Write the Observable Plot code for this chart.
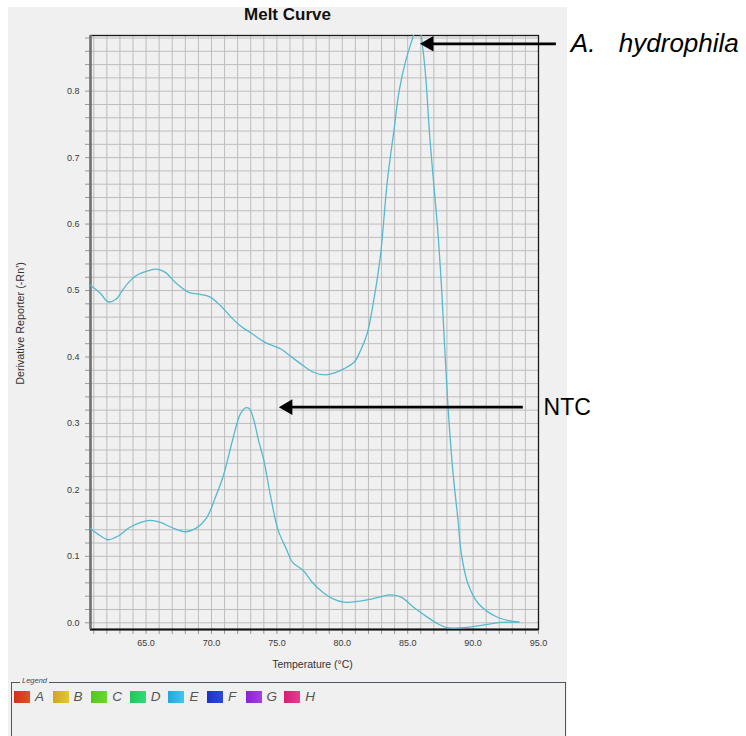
<!DOCTYPE html>
<html>
<head>
<meta charset="utf-8">
<script src="https://cdn.jsdelivr.net/npm/d3@7"></script>
<script src="https://cdn.jsdelivr.net/npm/@observablehq/plot@0.6"></script>
<style>
  html, body { margin: 0; padding: 0; background: #ffffff; overflow: hidden; }
  #wrap { position: relative; width: 746px; height: 736px; overflow: hidden; font-family: "Liberation Sans", Arial, sans-serif; }
  #panel { position: absolute; left: 8px; top: 7px; width: 559px; height: 729px; background: #f0f0f0; z-index: 0; }
  #title { position: relative; z-index: 1; box-sizing: border-box; height: 28px; padding-top: 5px; margin-left: 8px; width: 559px;
           text-align: center; font-weight: bold; font-size: 17px; line-height: 20px; color: #111; }
  #chart { position: relative; z-index: 1; height: 648px; }
  #chart svg { display: block; }
  #legend { position: relative; z-index: 1; height: 60px; }
  #legendBox { position: absolute; left: 11px; top: 6px; width: 553px; height: 80px; border: 1px solid #4e5660; }
  #legendTitle { position: absolute; left: 20px; top: 0px; padding: 0 2px; background: #f0f0f0; font-style: italic;
                 font-size: 7.5px; line-height: 10px; color: #3c4a66; }
  .sw { position: absolute; top: 15px; width: 16px; height: 12px; }
  .lk { position: absolute; top: 13px; font-style: italic; font-size: 13.5px; line-height: 16px; color: #555; }
</style>
</head>
<body>
<div id="wrap">
  <div id="panel"></div>
  <div id="title">Melt Curve</div>
  <div id="chart"></div>
  <div id="legend">
    <div id="legendBox"></div>
    <div id="legendTitle">Legend</div>
  </div>
</div>
<script>
// ---- data ----
const hydroTemp  = [60.75, 61.5, 62.1, 62.7, 63.4, 64.2, 65.2, 65.9, 66.5, 67.3, 68.3, 69.2, 69.9, 70.7, 71.5, 72.2, 73.1, 74.1, 75.3, 75.8, 76.8, 77.8, 78.7, 79.4, 80.1, 80.9, 81.4, 81.9, 82.4, 82.9, 83.45, 83.95, 84.35, 84.85, 85.25, 85.6, 85.9, 86.15, 86.4, 86.65, 86.9, 87.3, 87.6, 88.05, 88.45, 88.85, 89.1, 89.6, 90.4, 91.9, 93.5];
const hydroDeriv = [0.508, 0.496, 0.483, 0.487, 0.506, 0.522, 0.530, 0.532, 0.527, 0.511, 0.497, 0.494, 0.490, 0.477, 0.460, 0.447, 0.435, 0.422, 0.412, 0.405, 0.390, 0.377, 0.373, 0.376, 0.382, 0.392, 0.410, 0.435, 0.485, 0.550, 0.666, 0.741, 0.801, 0.846, 0.872, 0.890, 0.891, 0.865, 0.816, 0.741, 0.681, 0.590, 0.500, 0.335, 0.229, 0.154, 0.104, 0.059, 0.029, 0.008, 0.001];

const ntcTemp  = [60.75, 61.5, 62.1, 62.9, 63.7, 64.6, 65.3, 66.1, 67.0, 68.0, 68.8, 69.6, 70.3, 70.9, 71.6, 72.2, 72.6, 72.9, 73.25, 73.6, 74.0, 74.5, 75.1, 75.7, 76.2, 77.0, 77.7, 78.5, 79.3, 80.1, 81.0, 82.0, 82.9, 83.7, 84.5, 85.5, 86.5, 87.3, 88.0, 89.1, 90.1, 91.1, 92.1, 93.5];
const ntcDeriv = [0.142, 0.131, 0.125, 0.131, 0.143, 0.151, 0.154, 0.151, 0.143, 0.137, 0.142, 0.157, 0.189, 0.221, 0.274, 0.314, 0.3235, 0.322, 0.304, 0.274, 0.245, 0.192, 0.139, 0.112, 0.091, 0.079, 0.061, 0.046, 0.036, 0.031, 0.032, 0.035, 0.039, 0.042, 0.0385, 0.0225, 0.0085, -0.0015, -0.0072, -0.0075, -0.0055, -0.0025, 0.0005, 0.001];

const xDomain = [60.75, 95];
const yDomain = [-0.0101, 0.8838];
const xTickValues = [65, 70, 75, 80, 85, 90, 95];
const yTickValues = [0.0, 0.1, 0.2, 0.3, 0.4, 0.5, 0.6, 0.7, 0.8];
const xMinorTicks = d3.range(61, 95.5, 1);
const yMinorTicks = d3.range(0, 0.885, 0.02);

// annotations (data coordinates)
const arrowFrom = [96.33, 93.80];
const arrowTo   = [85.94, 75.15];
const arrowAt   = [0.8713, 0.3245];
const noteText  = ["A.", "hydrophila", "NTC"];
const noteTemp  = [97.47, 101.14, 95.39];
const noteValue = [0.8713, 0.8713, 0.3245];
const noteItalic = [true, true, false];

const legendKeys   = ["A", "B", "C", "D", "E", "F", "G", "H"];
const legendColors = [["#d2301c", "#e4521f"], ["#d3a41c", "#e0c832"], ["#52c81c", "#6ad82a"], ["#1ec85c", "#2fdc78"],
                      ["#22a6dc", "#3ec8f0"], ["#1c32c8", "#2c4ae0"], ["#8a22d8", "#a83ee8"], ["#d81c76", "#e83c90"]];

const curveColor = "#55b9cf";

// ---- build tables ----
const hydro = hydroTemp.map((t, i) => ({temp: t, deriv: hydroDeriv[i]}));
const ntc = ntcTemp.map((t, i) => ({temp: t, deriv: ntcDeriv[i]}));
const arrows = arrowFrom.map((f, i) => ({from: f, to: arrowTo[i], at: arrowAt[i]}));
const notes = noteText.map((s, i) => ({text: s, temp: noteTemp[i], value: noteValue[i], italic: noteItalic[i]}));

const fmt1 = d3.format(".1f");

const chart = Plot.plot({
  width: 746,
  height: 648,
  marginLeft: 90,
  marginRight: 208,
  marginTop: 7,
  marginBottom: 47,
  x: {domain: xDomain, label: null},
  y: {domain: yDomain, label: null},
  style: {background: "transparent", fontFamily: "'Liberation Sans', Arial, sans-serif", fontSize: "9px", color: "#333", overflow: "visible"},
  marks: [
    Plot.gridX(xMinorTicks, {stroke: "#bdbdbd", strokeOpacity: 1, strokeWidth: 1}),
    Plot.gridY(yMinorTicks, {stroke: "#bdbdbd", strokeOpacity: 1, strokeWidth: 1}),
    Plot.axisX(xMinorTicks, {tickSize: 5, tickFormat: () => "", stroke: "#9a9a9a", label: null}),
    Plot.axisY(yMinorTicks, {tickSize: 5, tickFormat: () => "", stroke: "#9a9a9a", label: null}),
    Plot.axisX(xTickValues, {tickSize: 0, tickPadding: 10, tickFormat: fmt1, fill: "#3a3a3a", label: null}),
    Plot.axisY(yTickValues, {tickSize: 0, tickPadding: 11, tickFormat: fmt1, fill: "#3a3a3a", label: null}),
    Plot.frame({stroke: "#1a1a1a", strokeWidth: 1.3}),
    Plot.ruleY([yDomain[0]], {stroke: "#111", strokeWidth: 2}),
    Plot.ruleX([xDomain[0]], {stroke: "#707070", strokeWidth: 2.5}),
    Plot.line(hydro, {x: "temp", y: "deriv", stroke: curveColor, strokeWidth: 1.3, curve: "catmull-rom", clip: true}),
    Plot.line(ntc, {x: "temp", y: "deriv", stroke: curveColor, strokeWidth: 1.3, curve: "catmull-rom", clip: true}),
    Plot.link(arrows, {x1: "from", x2: d => d.to + 0.5, y1: "at", y2: "at", stroke: "#000", strokeWidth: 2.7}),
    Plot.dot(arrows, {x: "to", y: "at", symbol: "triangle", r: 5.8, fill: "#000", stroke: "none", rotate: -90, dx: 9}),
    Plot.text(notes.filter(d => d.italic), {x: "temp", y: "value", text: "text", textAnchor: "start", fontSize: 26, fontStyle: "italic", fill: "#000"}),
    Plot.text(notes.filter(d => !d.italic), {x: "temp", y: "value", text: "text", textAnchor: "start", fontSize: 23, fill: "#000"}),
    Plot.text(["Temperature (°C)"], {frameAnchor: "bottom", textAnchor: "middle", dy: 38, dx: -2, fontSize: 10.5, fill: "#333"}),
    Plot.text(["Derivative Reporter (-Rn')"], {frameAnchor: "left", textAnchor: "middle", rotate: -90, dx: -70, dy: -9, fontSize: 10.8, fill: "#333"})
  ]
});
document.getElementById("chart").appendChild(chart);

// legend
const legend = document.getElementById("legend");
legendKeys.forEach((k, i) => {
  const left = 14 + i * 38.6;
  const sw = document.createElement("div");
  sw.className = "sw";
  sw.style.left = left + "px";
  sw.style.background = `linear-gradient(90deg, ${legendColors[i][0]}, ${legendColors[i][1]})`;
  legend.appendChild(sw);
  const lk = document.createElement("div");
  lk.className = "lk";
  lk.style.left = (left + 21) + "px";
  lk.textContent = k;
  legend.appendChild(lk);
});
</script>
</body>
</html>
